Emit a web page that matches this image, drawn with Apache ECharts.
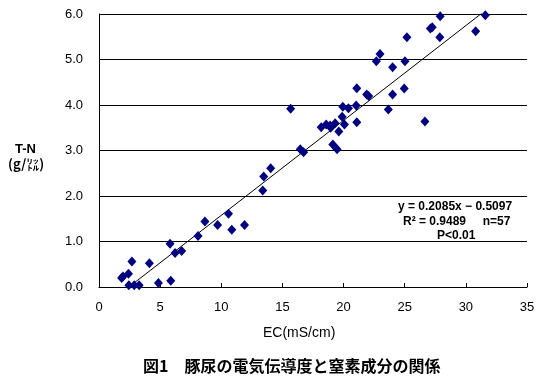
<!DOCTYPE html>
<html>
<head>
<meta charset="utf-8">
<script src="https://cdn.jsdelivr.net/npm/echarts@6/dist/echarts.min.js"></script>
<style>
html,body{margin:0;padding:0;background:#fff;}
#chart{width:543px;height:386px;}
</style>
</head>
<body>
<div id="chart"></div>
<script>
// EC (mS/cm)
var ecValues = [1.85, 1.96, 2.41, 2.69, 2.44, 2.88, 3.28, 4.12, 4.86, 5.81,
  5.87, 6.22, 6.76, 8.10, 8.66, 9.70, 10.59, 10.86, 11.90, 13.39,
  13.47, 14.04, 15.67, 16.46, 16.73, 18.17, 18.58, 18.90, 19.31, 19.12,
  19.47, 19.61, 19.88, 20.07, 19.94, 20.40, 21.03, 21.08, 21.08, 21.89,
  22.05, 22.68, 22.98, 23.66, 24.01, 24.01, 24.96, 25.02, 25.18, 26.65,
  27.10, 27.25, 27.87, 27.90, 30.80, 31.59, 18.95];
// T-N (g/L)
var tnValues = [0.20, 0.23, 0.29, 0.56, 0.04, 0.04, 0.04, 0.52, 0.09, 0.95,
  0.14, 0.75, 0.79, 1.12, 1.44, 1.36, 1.61, 1.26, 1.36, 2.12,
  2.43, 2.61, 3.92, 3.03, 2.96, 3.51, 3.57, 3.55, 3.60, 3.13,
  3.03, 3.42, 3.74, 3.57, 3.96, 3.93, 3.99, 3.62, 4.37, 4.23,
  4.20, 4.96, 5.12, 3.90, 4.23, 4.83, 4.36, 4.96, 5.49, 3.64,
  5.68, 5.71, 5.49, 5.95, 5.62, 5.97, 3.50];
var slope = 0.2085;
var intercept = -0.5097;
var xTicks = [0, 5, 10, 15, 20, 25, 30, 35];
var yTicks = [0, 1, 2, 3, 4, 5, 6];
var annotationLines = ['y = 0.2085x \u2212 0.5097', 'R\u00b2 = 0.9489     n=57', 'P<0.01'];

var points = ecValues.map(function (x, i) { return [x, tnValues[i]]; });
var xMin = Math.min.apply(null, ecValues), xMax = Math.max.apply(null, ecValues);
var trend = [[xMin, slope * xMin + intercept], [xMax, slope * xMax + intercept]];

var chart = echarts.init(document.getElementById('chart'), null, {renderer: 'canvas'});
var numFont = '"Liberation Sans", Arial, sans-serif';
chart.setOption({
  animation: false,
  backgroundColor: '#ffffff',
  grid: {left: 99, right: 16, top: 14, bottom: 99, containLabel: false},
  xAxis: {
    type: 'value', min: xTicks[0], max: xTicks[xTicks.length - 1], interval: 5,
    axisLine: {show: true, onZero: false, lineStyle: {color: '#000', width: 1}},
    axisTick: {show: true, inside: true, length: 4, lineStyle: {color: '#000'}},
    axisLabel: {color: '#000', fontSize: 13, fontFamily: numFont, margin: 14},
    splitLine: {show: false}
  },
  yAxis: {
    type: 'value', min: yTicks[0], max: yTicks[yTicks.length - 1], interval: 1,
    axisLine: {show: true, onZero: false, lineStyle: {color: '#000', width: 1}},
    axisTick: {show: false},
    axisLabel: {color: '#000', fontSize: 13, fontFamily: numFont, margin: 16,
      formatter: function (v) { return v.toFixed(1); }},
    splitLine: {show: true, lineStyle: {color: '#000', width: 1}}
  },
  series: [
    {
      type: 'line', data: trend, symbol: 'none', clip: true, silent: true,
      lineStyle: {color: '#000', width: 1}, z: 3
    },
    {
      type: 'scatter', data: points, symbol: 'diamond', symbolSize: [9, 10],
      itemStyle: {color: '#000080', opacity: 1}, z: 4
    }
  ],
  graphic: [
    {type: 'text', left: 398, top: 201, style: {text: annotationLines[0], font: 'bold 12px ' + numFont, fill: '#000'}},
    {type: 'text', left: 403, top: 216, style: {text: annotationLines[1], font: 'bold 12px ' + numFont, fill: '#000'}},
    {type: 'text', left: 437, top: 230, style: {text: annotationLines[2], font: 'bold 12px ' + numFont, fill: '#000'}},
    {type: 'text', left: 15, top: 143, style: {text: 'T-N', font: 'bold 13px ' + numFont, fill: '#000'}},
    {type: 'text', left: 8, top: 158, style: {text: '(g/\u3351)', font: 'bold 13px "Noto Sans CJK JP", ' + numFont, fill: '#000'}},
    {type: 'text', left: 263, top: 326, style: {text: 'EC(mS/cm)', font: '14px ' + numFont, fill: '#000'}},
    {type: 'text', left: 143, top: 358, style: {text: '図1\u3000豚尿の電気伝導度と窒素成分の関係', font: 'bold 16px "Noto Sans CJK JP"', fill: '#000'}}
  ]
});
</script>
</body>
</html>
